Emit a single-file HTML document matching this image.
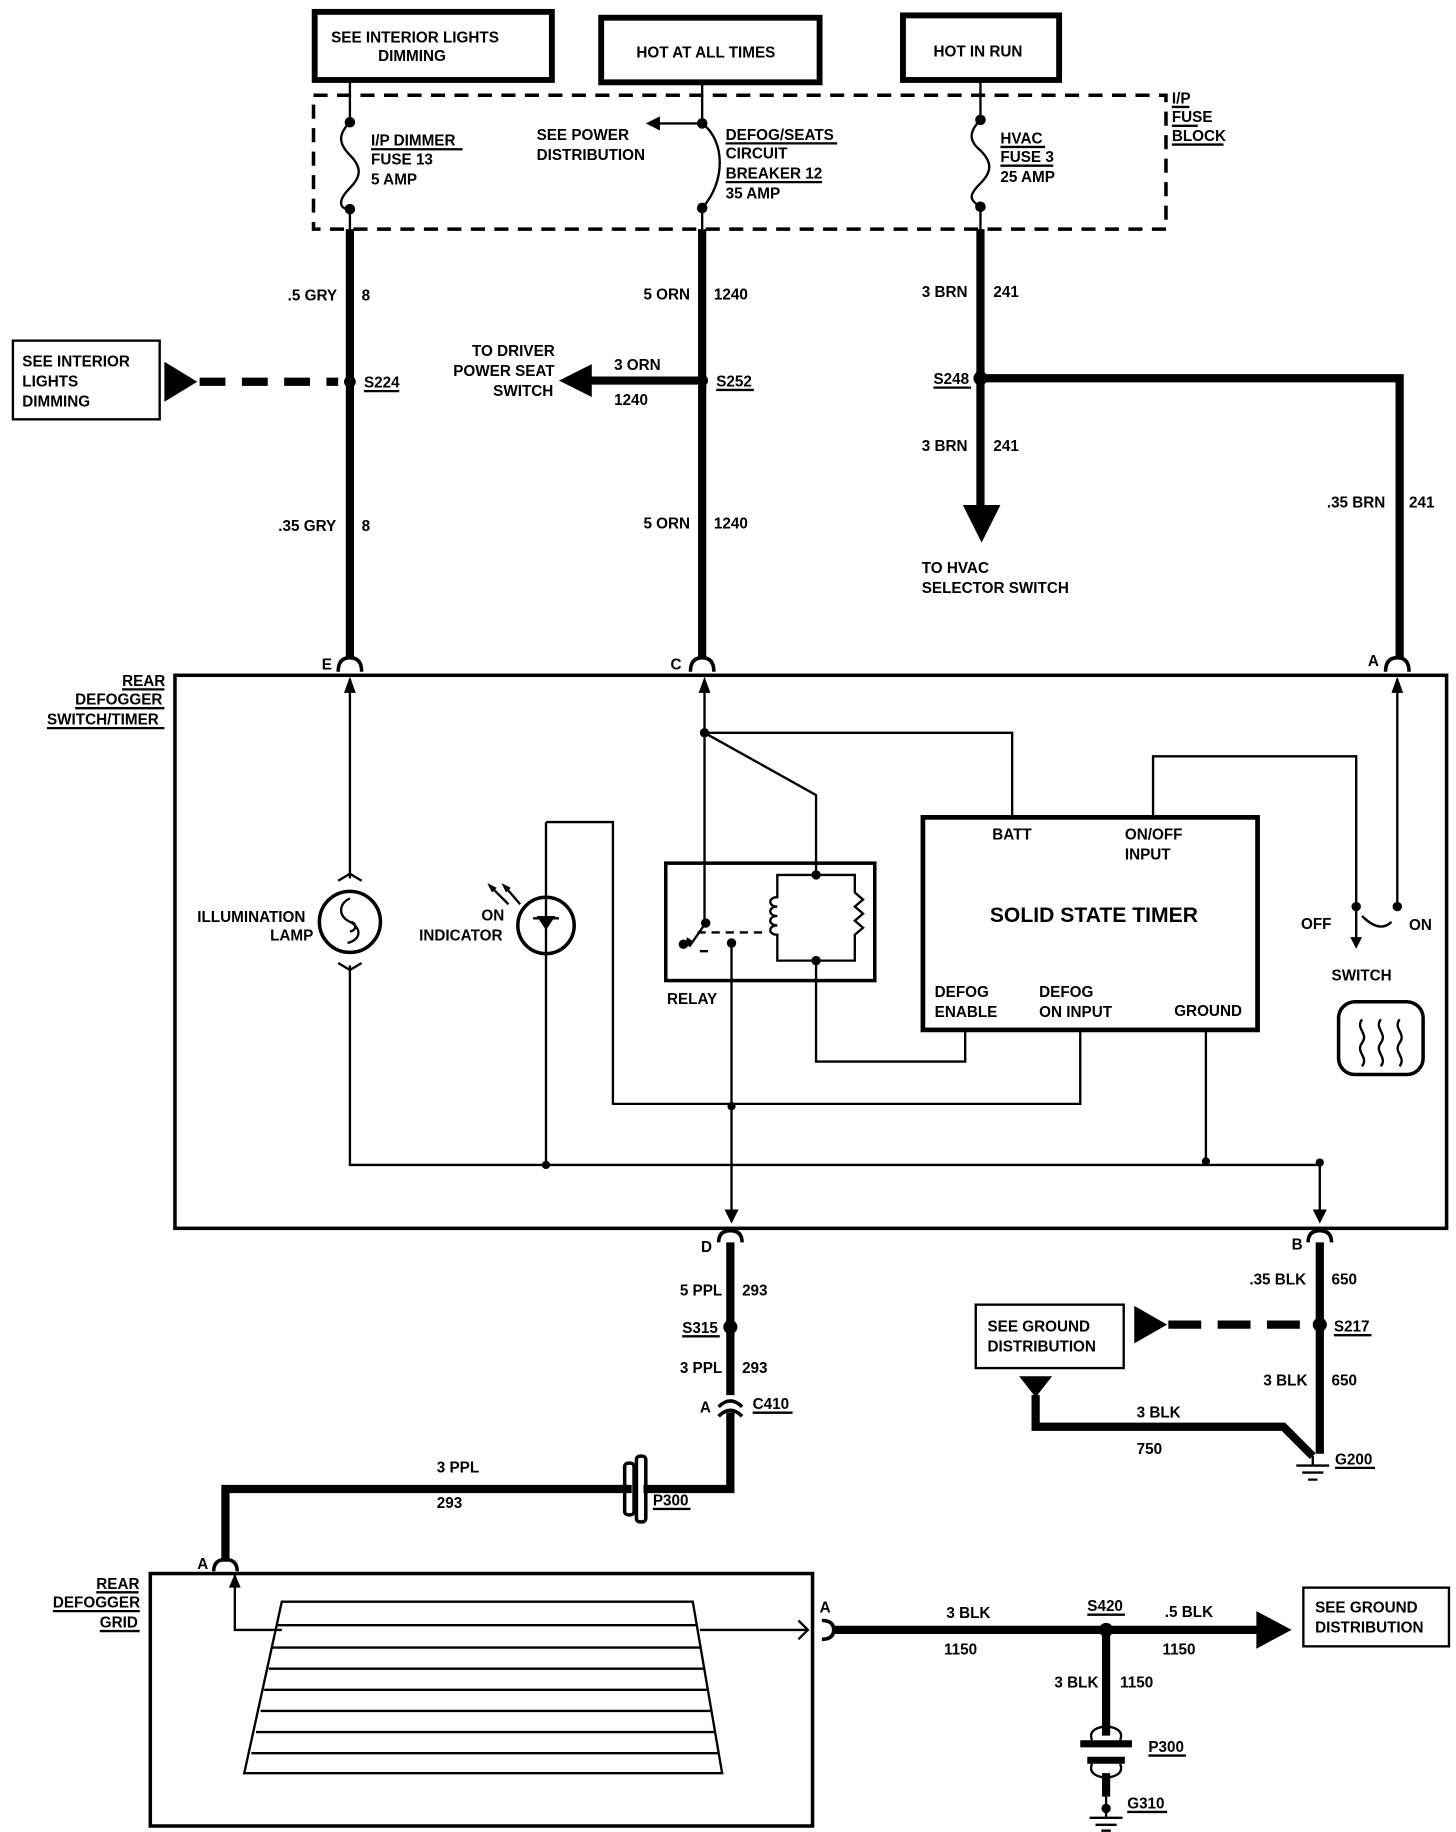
<!DOCTYPE html>
<html><head><meta charset="utf-8"><style>
html,body{margin:0;padding:0;background:#fff}
svg{display:block}
text{font-family:"Liberation Sans",sans-serif;font-weight:bold;font-size:13px;fill:#000}
.t{fill:none;stroke:#000;stroke-width:2}
.w{fill:none;stroke:#000;stroke-width:7}
.b{fill:none;stroke:#000;stroke-width:5}
</style></head><body>
<svg width="1456" height="1832" viewBox="0 0 1240 1560" xmlns="http://www.w3.org/2000/svg">
<!-- top boxes -->
<rect x="268" y="10" width="202" height="58" class="b"/>
<text x="282" y="36">SEE INTERIOR LIGHTS</text><text x="322" y="52">DIMMING</text>
<rect x="512" y="15" width="186" height="55" class="b"/>
<text x="542" y="49">HOT AT ALL TIMES</text>
<rect x="769" y="13" width="133" height="55" class="b"/>
<text x="795" y="48">HOT IN RUN</text>
<!-- fuse block -->
<rect x="267" y="81" width="726" height="114" fill="none" stroke="#000" stroke-width="3" stroke-dasharray="12,8"/>
<text x="998" y="88">I/P</text><text x="998" y="104">FUSE</text><text x="998" y="120">BLOCK</text>
<path class="t" d="M998 91h15M998 107h22M998 123h44"/>
<!-- wire1 -->
<path class="t" d="M298 68V104M298 178V195"/>
<path class="t" d="M298 104c-10 10 -10 18 0 28c10 10 10 18 0 28c-10 10 -10 18 0 18"/>
<circle cx="298" cy="104" r="4.5"/><circle cx="298" cy="178" r="4.5"/>
<text x="316" y="124">I/P DIMMER</text><text x="316" y="140">FUSE 13</text><text x="316" y="157">5 AMP</text>
<path class="t" d="M316 127h78"/>
<path class="w" d="M298 195V560"/>
<text x="245" y="256">.5 GRY</text><text x="308" y="256">8</text>
<text x="237" y="452">.35 GRY</text><text x="308" y="452">8</text>
<circle cx="298" cy="325" r="5"/>
<path d="M170 325H288" stroke="#000" stroke-width="7" stroke-dasharray="22,14"/>
<polygon points="140,308 168,325 140,342"/>
<rect x="11" y="290" width="125" height="67" fill="none" stroke="#000" stroke-width="2"/>
<text x="19" y="312">SEE INTERIOR</text><text x="19" y="329">LIGHTS</text><text x="19" y="346">DIMMING</text>
<text x="310" y="330">S224</text><path class="t" d="M310 333h30"/>
<!-- wire2 -->
<path class="t" d="M598 70V105M598 177V195M598 105H560"/>
<polygon points="550,105 562,99 562,111"/>
<path class="t" d="M598 105c20 15 20 50 0 72"/>
<circle cx="598" cy="105" r="4.5"/><circle cx="598" cy="177" r="4.5"/>
<text x="457" y="119">SEE POWER</text><text x="457" y="136">DISTRIBUTION</text>
<text x="618" y="119">DEFOG/SEATS</text><text x="618" y="135">CIRCUIT</text><text x="618" y="152">BREAKER 12</text><text x="618" y="169">35 AMP</text>
<path class="t" d="M618 122h95M618 155h82"/>
<path class="w" d="M598 195V560"/>
<text x="548" y="255">5 ORN</text><text x="608" y="255">1240</text>
<text x="548" y="450">5 ORN</text><text x="608" y="450">1240</text>
<circle cx="598" cy="324" r="5"/>
<path class="w" d="M598 324H500"/>
<polygon points="476,324 504,310 504,338"/>
<text x="523" y="315">3 ORN</text><text x="523" y="345">1240</text>
<text x="402" y="303">TO DRIVER</text><text x="386" y="320">POWER SEAT</text><text x="420" y="337">SWITCH</text>
<text x="610" y="329">S252</text><path class="t" d="M610 332h32"/>
<!-- wire3 -->
<path class="t" d="M835 68V102M835 176V195"/>
<path class="t" d="M835 102c-10 10 -10 18 0 26c10 10 10 18 0 28c-10 10 -10 14 0 20"/>
<circle cx="835" cy="102" r="4.5"/><circle cx="835" cy="176" r="4.5"/>
<text x="852" y="122">HVAC</text><text x="852" y="138">FUSE 3</text><text x="852" y="155">25 AMP</text>
<path class="t" d="M852 125h38M852 141h45"/>
<path class="w" d="M835 195V432"/>
<polygon points="820,430 852,430 836,462"/>
<text x="785" y="253">3 BRN</text><text x="846" y="253">241</text>
<text x="785" y="384">3 BRN</text><text x="846" y="384">241</text>
<circle cx="835" cy="322" r="6"/>
<path class="w" d="M835 322H1192V560"/>
<text x="795" y="327">S248</text><path class="t" d="M795 330h32"/>
<text x="785" y="488">TO HVAC</text><text x="785" y="505">SELECTOR SWITCH</text>
<text x="1130" y="432">.35 BRN</text><text x="1200" y="432">241</text>
<!-- connectors top -->
<g class="t" stroke-width="3">
<path d="M288 572q0-12 10-12q10 0 10 12" fill="none" stroke="#000" stroke-width="3"/>
<path d="M588 572q0-12 10-12q10 0 10 12" fill="none" stroke="#000" stroke-width="3"/>
<path d="M1180 572q0-12 10-12q10 0 10 12" fill="none" stroke="#000" stroke-width="3"/>
</g>
<text x="274" y="570">E</text><text x="571" y="570">C</text><text x="1165" y="567">A</text>
<!-- module -->
<rect x="149" y="575" width="1083" height="471" fill="none" stroke="#000" stroke-width="3"/>
<text x="104" y="584">REAR</text><text x="64" y="600">DEFOGGER</text><text x="40" y="617">SWITCH/TIMER</text>
<path class="t" d="M104 587h36M64 603h76M40 620h100"/>
<!-- internal lines -->
<path class="t" d="M298 578V748M298 822V992H1124"/>
<polygon points="298,576 293,590 303,590"/>
<circle cx="298" cy="785" r="26" fill="none" stroke="#000" stroke-width="3"/>
<path class="t" d="M288 750l10 -6l10 6M288 820l10 6l10 -6M298 765c-10 5 -10 15 0 20c10 5 10 15 -2 18M298 785c6 0 6 8 0 8"/>
<text x="168" y="785">ILLUMINATION</text><text x="230" y="801">LAMP</text>
<circle cx="465" cy="788" r="24" fill="none" stroke="#000" stroke-width="3"/>
<path class="t" d="M465 700V992M465 700H522V940H920V878M454 782h22"/>
<polygon points="457,780 473,780 465,792"/>
<path class="t" d="M443 770l-12 -14M433 770l-14 -14"/>
<polygon points="427,752 435,756 431,760"/><polygon points="415,752 423,756 419,760"/>
<text x="410" y="784">ON</text><text x="357" y="801">INDICATOR</text>
<circle cx="465" cy="992" r="3.5"/>
<path class="t" d="M600 580V785M600 624H862V695M600 624L695 677V745"/>
<polygon points="600,576 595,590 605,590"/>
<circle cx="600" cy="624" r="4"/>
<rect x="567" y="735" width="178" height="100" fill="none" stroke="#000" stroke-width="3"/>
<circle cx="601" cy="786" r="4"/><path class="t" d="M601 786L587 806"/>
<polygon points="583,808 585,798 591,802"/>
<circle cx="582" cy="804" r="4"/><circle cx="623" cy="803" r="4"/>
<path class="t" d="M596 810h8M594 794h60" stroke-dasharray="7,5"/>
<path class="t" d="M695 745H662V764c-8 0 -8 8 0 8c-8 0 -8 8 0 8c-8 0 -8 8 0 8c-8 0 -8 8 0 8V818H693M695 745H728V760l7 6l-7 6l7 6l-7 6l7 6l-7 6V818H693"/>
<circle cx="695" cy="745" r="4"/><circle cx="695" cy="818" r="4"/>
<path class="t" d="M695 818V904H822V878"/>
<path class="t" d="M623 803V1040"/><circle cx="623" cy="942" r="3.5"/>
<polygon points="617,1030 629,1030 623,1042"/>
<text x="568" y="855">RELAY</text>
<rect x="786" y="696" width="285" height="181" fill="none" stroke="#000" stroke-width="4"/>
<text x="845" y="715">BATT</text><text x="958" y="715">ON/OFF</text><text x="958" y="732">INPUT</text>
<text x="843" y="785" style="font-size:18px">SOLID STATE TIMER</text>
<text x="796" y="849">DEFOG</text><text x="796" y="866">ENABLE</text>
<text x="885" y="849">DEFOG</text><text x="885" y="866">ON INPUT</text>
<text x="1000" y="865">GROUND</text>
<path class="t" d="M982 695V644H1155V772M1027 877V990M1124 992V1040M1190 578V772"/>
<polygon points="1190,576 1185,590 1195,590"/>
<circle cx="1027" cy="989" r="3.5"/><circle cx="1124" cy="990" r="3.5"/>
<circle cx="1155" cy="772" r="4"/><circle cx="1190" cy="772" r="4"/>
<path class="t" d="M1155 772V800M1160 780q15 15 25 5"/>
<polygon points="1150,798 1160,798 1155,808"/>
<polygon points="1118,1030 1130,1030 1124,1042"/>
<text x="1108" y="791">OFF</text><text x="1200" y="792">ON</text><text x="1134" y="835">SWITCH</text>
<rect x="1140" y="853" width="72" height="62" rx="14" fill="none" stroke="#000" stroke-width="3"/>
<path class="t" d="M1160 868c-6 8 6 12 0 20c-6 8 6 12 0 20M1176 868c-6 8 6 12 0 20c-6 8 6 12 0 20M1192 868c-6 8 6 12 0 20c-6 8 6 12 0 20"/>
<!-- bottom connectors -->
<path d="M612 1058q0-10 10-10q10 0 10 10M1114 1058q0-10 10-10q10 0 10 10" fill="none" stroke="#000" stroke-width="3"/>
<text x="597" y="1066">D</text><text x="1100" y="1064">B</text>
<path class="w" d="M622 1058V1188M622 1203V1268H548M538 1268H192V1330"/>
<text x="579" y="1103">5 PPL</text><text x="632" y="1103">293</text>
<circle cx="622" cy="1130" r="6"/><text x="581" y="1135">S315</text><path class="t" d="M581 1138h32"/>
<text x="579" y="1169">3 PPL</text><text x="632" y="1169">293</text>
<path d="M612 1198q10-10 20 0M612 1206q10-10 20 0" fill="none" stroke="#000" stroke-width="3"/>
<text x="596" y="1203">A</text><text x="641" y="1200">C410</text><path class="t" d="M641 1203h34"/>
<rect x="532" y="1246" width="8" height="44" rx="3" fill="none" stroke="#000" stroke-width="3"/>
<rect x="542" y="1240" width="8" height="56" rx="3" fill="none" stroke="#000" stroke-width="3"/>
<text x="556" y="1282">P300</text><path class="t" d="M556 1285h32"/>
<text x="372" y="1254">3 PPL</text><text x="372" y="1284">293</text>
<path d="M182 1338q0-10 10-10q10 0 10 10" fill="none" stroke="#000" stroke-width="3"/>
<text x="168" y="1336">A</text>
<!-- right bottom -->
<path class="w" d="M1124 1058V1238"/>
<text x="1064" y="1094">.35 BLK</text><text x="1134" y="1094">650</text>
<circle cx="1124" cy="1128" r="6"/>
<text x="1136" y="1134">S217</text><path class="t" d="M1136 1137h32"/>
<path d="M995 1128H1113" stroke="#000" stroke-width="7" stroke-dasharray="28,14"/>
<polygon points="966,1112 994,1128 966,1144"/>
<rect x="831" y="1111" width="126" height="54" fill="none" stroke="#000" stroke-width="2"/>
<text x="841" y="1134">SEE GROUND</text><text x="841" y="1151">DISTRIBUTION</text>
<text x="1076" y="1180">3 BLK</text><text x="1134" y="1180">650</text>
<polygon points="868,1172 896,1172 882,1190"/>
<path class="w" d="M882 1188V1215H1093L1118 1240"/>
<text x="968" y="1207">3 BLK</text><text x="968" y="1238">750</text>
<path class="t" d="M1118 1240V1248M1104 1248h28M1109 1254h18M1114 1260h8"/>
<text x="1137" y="1247">G200</text><path class="t" d="M1137 1250h34"/>
<!-- grid -->
<rect x="128" y="1340" width="564" height="215" fill="none" stroke="#000" stroke-width="3"/>
<text x="82" y="1353">REAR</text><text x="45" y="1369">DEFOGGER</text><text x="85" y="1386">GRID</text>
<path class="t" d="M82 1356h36M45 1372h74M85 1389h34"/>
<path class="t" d="M200 1340V1388H240M596 1388H688"/>
<polygon points="200,1340 195,1352 205,1352"/>
<path class="t" d="M680 1380l8 8l-8 8"/>
<path class="t" d="M240 1364H590L615 1510H208Z"/>
<path class="t" d="M236 1384H593M232 1403H596M229 1421H599M225 1439H602M222 1457H605M218 1475H609M214 1493H612"/>
<path d="M700 1380q10 0 10 8q0 8-10 8" fill="none" stroke="#000" stroke-width="3"/>
<text x="698" y="1373">A</text>
<path class="w" d="M710 1388H1072M942 1388V1478M942 1510V1530"/>
<polygon points="1070,1372 1100,1388 1070,1404"/>
<circle cx="942" cy="1388" r="6"/>
<text x="926" y="1372">S420</text><path class="t" d="M926 1375h32"/>
<text x="806" y="1378">3 BLK</text><text x="804" y="1409">1150</text>
<text x="992" y="1377">.5 BLK</text><text x="990" y="1409">1150</text>
<rect x="1110" y="1352" width="124" height="50" fill="none" stroke="#000" stroke-width="2"/>
<text x="1120" y="1373">SEE GROUND</text><text x="1120" y="1390">DISTRIBUTION</text>
<text x="898" y="1437">3 BLK</text><text x="954" y="1437">1150</text>
<path d="M920 1482h44v6h-44zM926 1496h32v6h-32z" fill="#000"/>
<path class="t" d="M930 1482q-4-10 12-12q16 2 12 12M930 1502q-4 10 12 12q16-2 12-12"/>
<text x="978" y="1492">P300</text><path class="t" d="M978 1495h32"/>
<circle cx="942" cy="1540" r="4"/>
<path class="t" d="M942 1530V1548M928 1548h28M933 1554h18M938 1559h8"/>
<text x="960" y="1540">G310</text><path class="t" d="M960 1543h34"/>
</svg>
</body></html>
